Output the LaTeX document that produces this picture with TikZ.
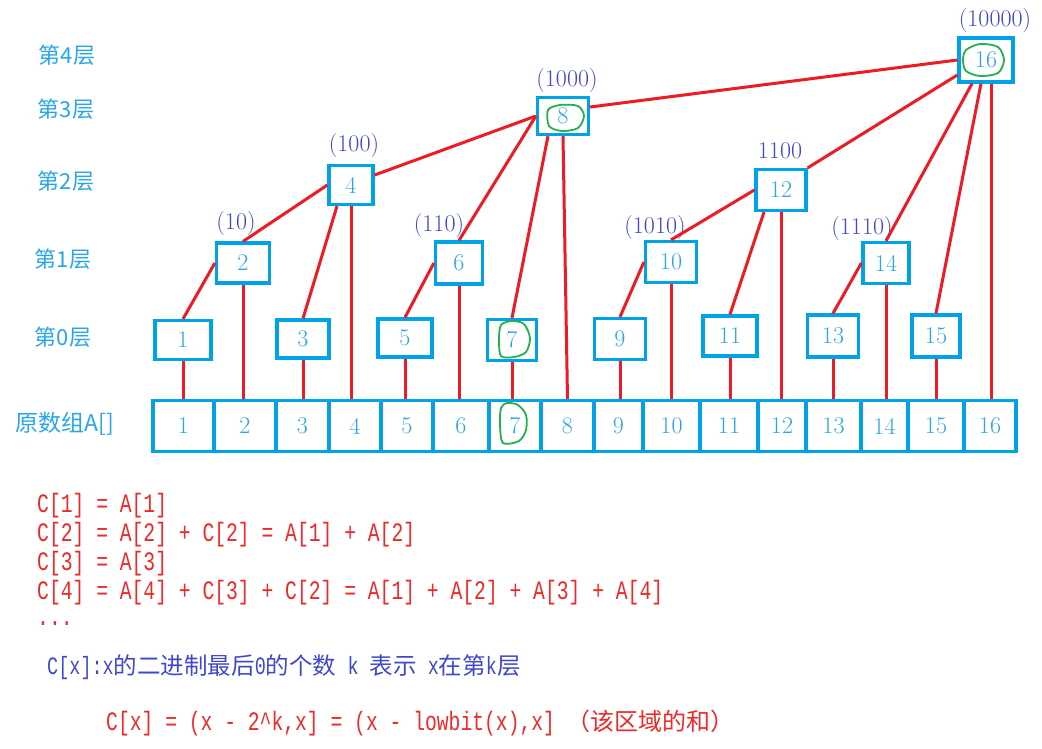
\documentclass[tikz,border=0pt]{standalone}
\usepackage{fontspec}
\newfontfamily\cjk{Noto Sans CJK SC}
\newfontfamily\mono[FakeStretch=0.74]{Liberation Mono}
\definecolor{boxblue}{HTML}{00A2E8}
\definecolor{boxtext}{HTML}{2AA5E6}
\definecolor{indigo}{HTML}{3F48CC}
\definecolor{linered}{HTML}{ED1C24}
\definecolor{textred}{HTML}{F02828}
\definecolor{mark}{HTML}{22B14C}
\newcommand{\cj}[2][22]{{\cjk\fontsize{#1}{#1}\selectfont #2}}
\begin{document}
\begin{tikzpicture}[x=1pt,y=-1pt,
  tbox/.style={draw=boxblue, line width=3.2pt, inner sep=0pt, text=boxtext,
    font=\fontsize{24}{24}\selectfont},
  cell/.style={tbox, minimum height=51},
  link/.style={draw=linered, line width=3pt},
  bin/.style={text=indigo, inner sep=0pt, font=\fontsize{24}{24}\selectfont},
  lvl/.style={text=boxtext, inner sep=0pt, font=\cjk\fontsize{22}{22}\selectfont},
  redline/.style={anchor=west, inner sep=0pt, text=textred, font=\mono\fontsize{26.6}{27}\selectfont},
  blueline/.style={anchor=west, inner sep=0pt, text=indigo, font=\mono\fontsize{25}{26}\selectfont},
  ring/.style={draw=mark, line width=1.8pt}
]
\path[use as bounding box] (0,0) rectangle (1042,748);

% level labels
\node[lvl] (l4) at (67,55) {第4层};
\node[lvl] (l3) at (66,109) {第3层};
\node[lvl] (l2) at (66,181) {第2层};
\node[lvl] (l1) at (63,259) {第1层};
\node[lvl] (l0) at (63,337) {第0层};
\node[lvl, font=\cjk\fontsize{23}{23}\selectfont] (lA) at (65,424) {原数组A[]};

% tree boxes
\node[tbox, minimum width=54, minimum height=44] (c16) at (986,60) {16};
\node[tbox, minimum width=51, minimum height=37] (c8) at (563,116) {8};
\node[tbox, minimum width=44, minimum height=39] (c4) at (351,185) {4};
\node[tbox, minimum width=50, minimum height=41] (c12) at (781,190) {12};
\node[tbox, minimum width=53, minimum height=40] (c2) at (243,263) {2};
\node[tbox, minimum width=47, minimum height=42] (c6) at (459,263) {6};
\node[tbox, minimum width=51, minimum height=41] (c10) at (671,262) {10};
\node[tbox, minimum width=46, minimum height=41] (c14) at (886,263) {14};
\node[tbox, minimum width=56, minimum height=39] (c1) at (183,340) {1};
\node[tbox, minimum width=52, minimum height=38] (c3) at (303,339) {3};
\node[tbox, minimum width=54, minimum height=38] (c5) at (405,338) {5};
\node[tbox, minimum width=49, minimum height=41] (c7) at (512,340) {7};
\node[tbox, minimum width=51, minimum height=41] (c9) at (620,339) {9};
\node[tbox, minimum width=54, minimum height=40] (c11) at (730,336) {11};
\node[tbox, minimum width=51, minimum height=42] (c13) at (833,336) {13};
\node[tbox, minimum width=48, minimum height=42] (c15) at (936,336) {15};

% binary labels
\node[bin] (b2) at (236,224) {(10)};
\node[bin] (b4) at (354,146) {(100)};
\node[bin] (b6) at (439,226) {(110)};
\node[bin] (b8) at (567,81) {(1000)};
\node[bin] (b12) at (780,151) {1100};
\node[bin] (b10) at (655,228) {(1010)};
\node[bin] (b14) at (862,229) {(1110)};
\node[bin] (b16) at (995,21) {(10000)};

% original array
\node[cell, minimum width=61] (a1) at (183.5,426) {1};
\node[cell, minimum width=62] (a2) at (245,426) {2};
\node[cell, minimum width=53] (a3) at (302.5,426) {3};
\node[cell, minimum width=52] (a4) at (355,426) {4};
\node[cell, minimum width=52] (a5) at (407,426) {5};
\node[cell, minimum width=56] (a6) at (461,426) {6};
\node[cell, minimum width=52] (a7) at (515,426) {7};
\node[cell, minimum width=53] (a8) at (567.5,426) {8};
\node[cell, minimum width=49] (a9) at (618.5,426) {9};
\node[cell, minimum width=57] (a10) at (671.5,426) {10};
\node[cell, minimum width=58] (a11) at (729,426) {11};
\node[cell, minimum width=48] (a12) at (782,426) {12};
\node[cell, minimum width=55] (a13) at (833.5,426) {13};
\node[cell, minimum width=47] (a14) at (884.5,426) {14};
\node[cell, minimum width=56] (a15) at (936,426) {15};
\node[cell, minimum width=52] (a16) at (990,426) {16};

% vertical links to the array
\foreach \i in {1,2,3,4,5,6,7,9,10,11,12,13,14,15}
  \draw[link] (c\i.south) -- (c\i.south |- a\i.north);
\draw[link] (c8.south) -- (a8.north);
\draw[link] ([xshift=5pt]c16.south) -- ([xshift=5pt]c16.south |- a16.north);

% tree links
\draw[link] (c1.north) -- (c2.west);
\draw[link] (c2.north) -- (c4.west);
\draw[link] (c3.north) -- ([xshift=-14pt]c4.south);
\draw[link] ([yshift=10pt]c4.east) -- (c8.west);
\draw[link] (c5.north) -- (c6.west);
\draw[link] (c6.north) -- (c8.west);
\draw[link] (c7.north) -- ([xshift=-15pt]c8.south);
\draw[link] ([yshift=9pt]c8.east) -- (c16.west);
\draw[link] (c9.north) -- (c10.west);
\draw[link] (c10.north) -- (c12.west);
\draw[link] (c11.north) -- ([xshift=-17pt]c12.south);
\draw[link] (c12.north east) -- ([yshift=-15pt]c16.west);
\draw[link] (c13.north) -- (c14.west);
\draw[link] (c14.north) -- ([xshift=-14pt]c16.south);
\draw[link] (c15.north) -- ([xshift=-5pt]c16.south);

% green marks
\draw[ring] plot[smooth cycle] coordinates {(548,110) (560,105) (578,106) (584,116) (578,128) (562,131) (549,126)};
\draw[ring] plot[smooth cycle] coordinates {(966,50) (980,44) (998,47) (1004,60) (998,73) (980,76) (966,71) (963,60)};
\draw[ring] plot[smooth cycle] coordinates {(501,325) (512,321) (524,324) (530,338) (526,352) (514,357) (501,356) (499,340)};
\draw[ring] plot[smooth cycle] coordinates {(501,408) (507,403) (518,405) (526,415) (526,430) (519,441) (503,443) (500,425)};

% formulas
\node[redline] (f1) at (37,506) {C[1] = A[1]};
\node[redline] (f2) at (37,535) {C[2] = A[2] + C[2] = A[1] + A[2]};
\node[redline] (f3) at (37,564) {C[3] = A[3]};
\node[redline] (f4) at (37,593) {C[4] = A[4] + C[3] + C[2] = A[1] + A[2] + A[3] + A[4]};
\node[redline] (f5) at (37,624) {...};
\node[blueline] (f6) at (47,667) {C[x]:x\cj[23.5]{的二进制最后}0\cj[23.5]{的个数} k \cj[23.5]{表示} x\cj[23.5]{在第}k\cj[23.5]{层}};
\node[redline] (f7) at (106,723) {C[x] = (x - 2\textasciicircum k,x] = (x - lowbit(x),x] \cj[24]{（该区域的和）}};
\end{tikzpicture}
\end{document}
